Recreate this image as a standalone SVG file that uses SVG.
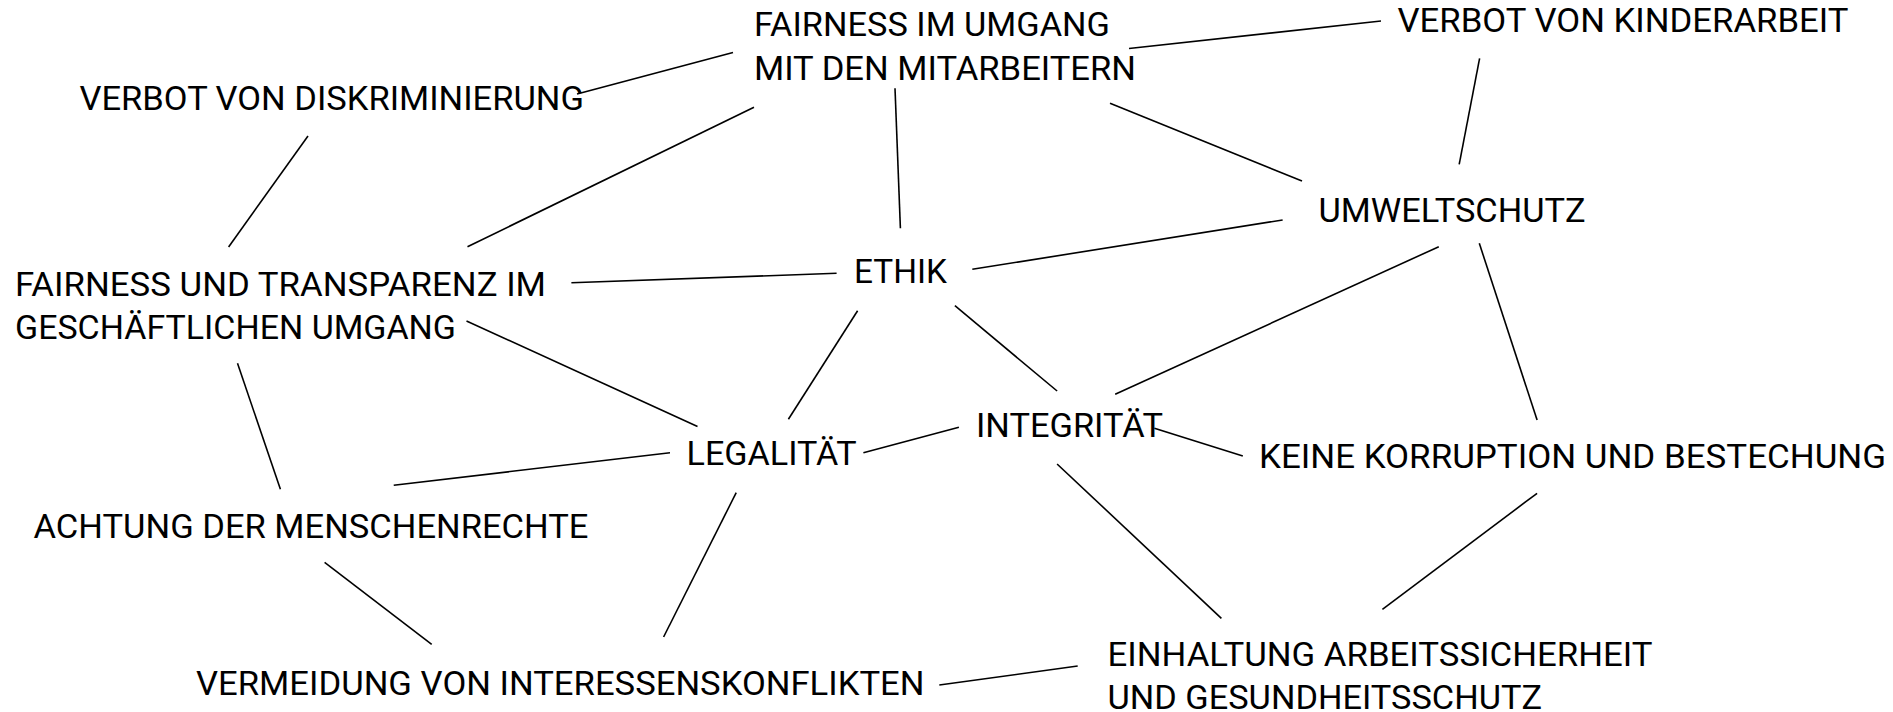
<svg xmlns="http://www.w3.org/2000/svg" width="1893" height="712" viewBox="0 0 1893 712">
<style>
  .t { font-family: Roboto, "Liberation Sans", sans-serif; font-size: 34px; fill: #000; }
  .c line { stroke: #000; stroke-width: 1.6; stroke-linecap: butt; }
</style>
<rect width="1893" height="712" fill="#fff"/>
<g id="connectors" class="c">
  <line x1="577" y1="94" x2="733" y2="52.5"/>
  <line x1="1129" y1="48.5" x2="1381" y2="21"/>
  <line x1="308" y1="136" x2="228.6" y2="247"/>
  <line x1="467.5" y1="246.7" x2="754" y2="107.3"/>
  <line x1="895" y1="88.3" x2="900.4" y2="228.3"/>
  <line x1="1110" y1="103.3" x2="1302" y2="181"/>
  <line x1="1479.6" y1="58.3" x2="1459.2" y2="164.3"/>
  <line x1="571.4" y1="282.7" x2="836.6" y2="273.3"/>
  <line x1="972.3" y1="269.3" x2="1282.6" y2="220"/>
  <line x1="1438.8" y1="246.7" x2="1115.2" y2="394.3"/>
  <line x1="1479.3" y1="243.3" x2="1537.1" y2="420"/>
  <line x1="466.5" y1="321" x2="697.5" y2="426.5"/>
  <line x1="237.5" y1="363.3" x2="280.4" y2="489.3"/>
  <line x1="857.6" y1="310.7" x2="788.4" y2="419.3"/>
  <line x1="954.9" y1="305.7" x2="1057.1" y2="391"/>
  <line x1="393.7" y1="485.3" x2="670" y2="452.7"/>
  <line x1="863.4" y1="452.7" x2="958.9" y2="427.3"/>
  <line x1="1154.4" y1="428.3" x2="1242.8" y2="456"/>
  <line x1="324.6" y1="562.3" x2="431.7" y2="644.3"/>
  <line x1="736.2" y1="492.7" x2="663.6" y2="637"/>
  <line x1="1057.1" y1="464" x2="1221.4" y2="618.3"/>
  <line x1="939.3" y1="685" x2="1077.7" y2="666"/>
  <line x1="1537.1" y1="493.3" x2="1382.4" y2="609.3"/>
</g>
<g id="n-fairness-mitarbeiter">
  <text class="t" x="754" y="36" textLength="356" lengthAdjust="spacingAndGlyphs">FAIRNESS IM UMGANG</text>
  <text class="t" x="754" y="79.5" textLength="382" lengthAdjust="spacingAndGlyphs">MIT DEN MITARBEITERN</text>
</g>
<g id="n-kinderarbeit">
  <text class="t" x="1397.5" y="32" textLength="451" lengthAdjust="spacingAndGlyphs">VERBOT VON KINDERARBEIT</text>
</g>
<g id="n-diskriminierung">
  <text class="t" x="79.5" y="110" textLength="504.5" lengthAdjust="spacingAndGlyphs">VERBOT VON DISKRIMINIERUNG</text>
</g>
<g id="n-umweltschutz">
  <text class="t" x="1318.5" y="221.5" textLength="267" lengthAdjust="spacingAndGlyphs">UMWELTSCHUTZ</text>
</g>
<g id="n-fairness-transparenz">
  <text class="t" x="15" y="296" textLength="531" lengthAdjust="spacingAndGlyphs">FAIRNESS UND TRANSPARENZ IM</text>
  <text class="t" x="15" y="338.5" textLength="441" lengthAdjust="spacingAndGlyphs">GESCHÄFTLICHEN UMGANG</text>
</g>
<g id="n-ethik">
  <text class="t" x="854" y="283.3" textLength="93" lengthAdjust="spacingAndGlyphs">ETHIK</text>
</g>
<g id="n-legalitaet">
  <text class="t" x="686.5" y="465" textLength="170" lengthAdjust="spacingAndGlyphs">LEGALITÄT</text>
</g>
<g id="n-integritaet">
  <text class="t" x="976" y="437.3" textLength="187" lengthAdjust="spacingAndGlyphs">INTEGRITÄT</text>
</g>
<g id="n-korruption">
  <text class="t" x="1259" y="468.3" textLength="627" lengthAdjust="spacingAndGlyphs">KEINE KORRUPTION UND BESTECHUNG</text>
</g>
<g id="n-menschenrechte">
  <text class="t" x="33.5" y="537.5" textLength="555" lengthAdjust="spacingAndGlyphs">ACHTUNG DER MENSCHENRECHTE</text>
</g>
<g id="n-interessenskonflikte">
  <text class="t" x="196" y="695" textLength="728.5" lengthAdjust="spacingAndGlyphs">VERMEIDUNG VON INTERESSENSKONFLIKTEN</text>
</g>
<g id="n-arbeitssicherheit">
  <text class="t" x="1107.5" y="666" textLength="545" lengthAdjust="spacingAndGlyphs">EINHALTUNG ARBEITSSICHERHEIT</text>
  <text class="t" x="1107.5" y="708.5" textLength="434.5" lengthAdjust="spacingAndGlyphs">UND GESUNDHEITSSCHUTZ</text>
</g>
</svg>
